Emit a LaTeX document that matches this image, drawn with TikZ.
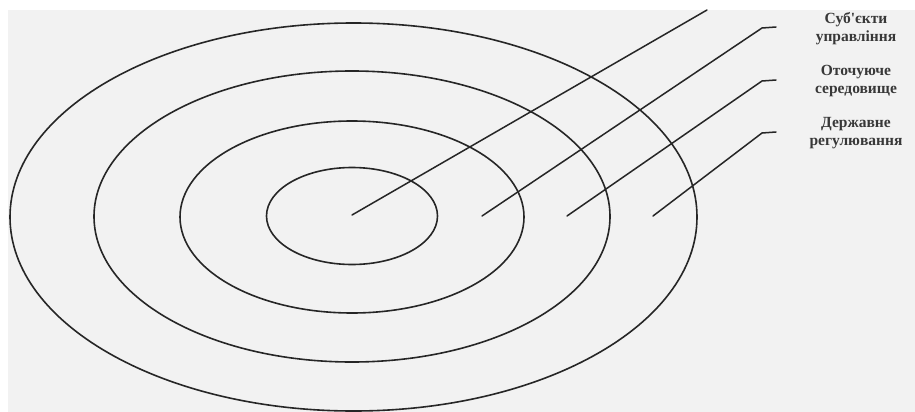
\documentclass[tikz,border=0pt]{standalone}
\usepackage{fontspec}
\setmainfont{Liberation Serif}
\usetikzlibrary{shapes.geometric}
\begin{document}
\begin{tikzpicture}[x=1pt,y=-1pt,
  ring/.style={draw=black!85, line width=1.6pt, ellipse, inner sep=0pt},
  leader/.style={draw=black!85, line width=1.5pt, line cap=round, line join=round},
  lab/.style={align=center, font=\bfseries\fontsize{15.5}{18}\selectfont, text=black!78, inner sep=0pt}]
\useasboundingbox (0,0) rectangle (915,412);
\fill[white] (0,0) rectangle (915,412);
\fill[black!5] (8,10) rectangle (915,412);
\begin{scope}
\clip (0,0) rectangle (915,412);
\node[ring, minimum width=171pt, minimum height=97pt] (r1) at (352,216) {};
\node[ring, minimum width=344pt, minimum height=192pt] (r2) at (352,217) {};
\node[ring, minimum width=516pt, minimum height=291pt] (r3) at (352,216.5) {};
\node[ring, minimum width=687pt, minimum height=388pt] (r4) at (353.5,217) {};
\end{scope}
\coordinate (c0) at (352,215);
\coordinate (t0) at (707,10);
\coordinate (c1) at (482,216);
\coordinate (k1) at (762,28);
\coordinate (e1) at (776,27);
\coordinate (c2) at (567,216);
\coordinate (k2) at (762,81);
\coordinate (e2) at (776,80);
\coordinate (c3) at (653,216);
\coordinate (k3) at (762,133);
\coordinate (e3) at (776,132);
\draw[leader] (c0) -- (t0);
\draw[leader] (c1) -- (k1) -- (e1);
\draw[leader] (c2) -- (k2) -- (e2);
\draw[leader] (c3) -- (k3) -- (e3);
\node[lab] (l1) at (856,29) {Суб\textquotesingle єкти\\управління};
\node[lab] (l2) at (856,81) {Оточуюче\\середовище};
\node[lab] (l3) at (856,133) {Державне\\регулювання};
\end{tikzpicture}
\end{document}
